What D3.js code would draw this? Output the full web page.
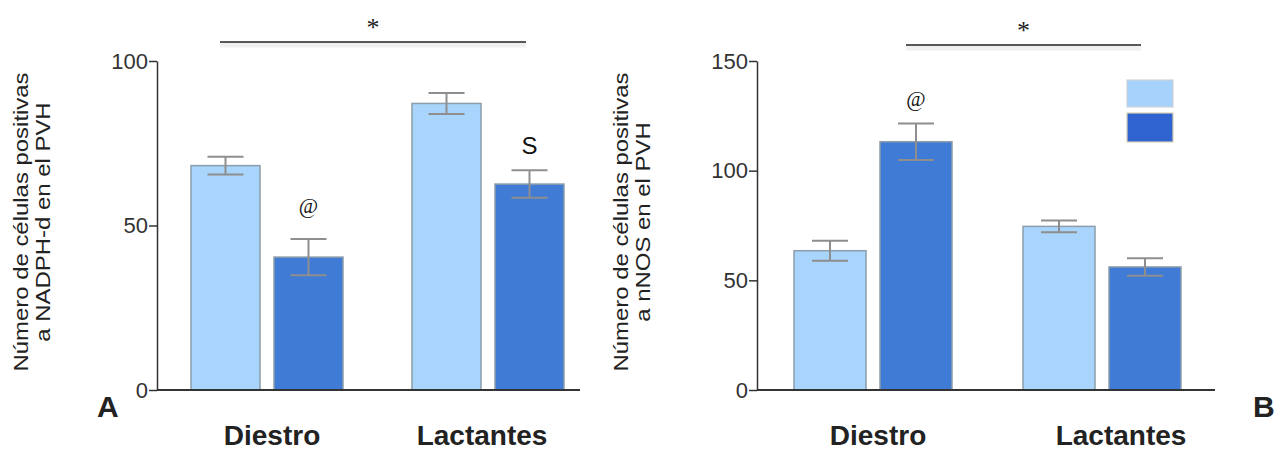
<!DOCTYPE html>
<html>
<head>
<meta charset="utf-8">
<script src="https://cdn.jsdelivr.net/npm/d3@7"></script>
<style>
  html, body { margin: 0; padding: 0; background: #fff; }
  svg { display: block; }
</style>
</head>
<body>
<svg id="fig" width="1278" height="451"></svg>
<script>
// ---- data ----
const groups = ["Diestro", "Lactantes"];
const seriesKeys = ["serie1", "serie2"];

// Panel A: NADPH-d
const nadphSerie1 = [68.2, 87.1];
const nadphSerie1Err = [2.7, 3.2];
const nadphSerie2 = [40.4, 62.6];
const nadphSerie2Err = [5.5, 4.2];
const nadphTicks = [0, 50, 100];

// Panel B: nNOS
const nosSerie1 = [63.5, 74.6];
const nosSerie1Err = [4.6, 2.7];
const nosSerie2 = [113.2, 56.1];
const nosSerie2Err = [8.3, 4.0];
const nosTicks = [0, 50, 100, 150];

// ---- styles ----
const fills = { serie1: "#a9d4fb", serie2: "#407bd5" };
const barStroke = "#8c9dab";
const errColor = "#8e8e8e";
const sans = "'Liberation Sans', Arial, Helvetica, sans-serif";
const serif = "'Liberation Serif', 'Times New Roman', serif";

const svg = d3.select("#fig");

function buildRows(s1, e1, s2, e2) {
  return groups.map((g, i) => ({
    group: g,
    bars: [
      { key: "serie1", value: s1[i], err: e1[i] },
      { key: "serie2", value: s2[i], err: e2[i] }
    ]
  }));
}

function drawPanel(cfg) {
  const g = svg.append("g");
  const y = d3.scaleLinear().domain([0, cfg.yMax]).range([cfg.y0, cfg.yTop]);
  const x0 = d3.scaleBand().domain(groups).range(cfg.barRange).paddingInner(cfg.groupPad).paddingOuter(0);
  const x1 = d3.scaleBand().domain(seriesKeys).range([0, x0.bandwidth()]).paddingInner(cfg.barPad).paddingOuter(0);

  // bars
  const grp = g.selectAll("g.grp").data(cfg.rows).join("g")
    .attr("transform", d => `translate(${x0(d.group)},0)`);
  grp.selectAll("rect").data(d => d.bars).join("rect")
    .attr("x", d => x1(d.key))
    .attr("y", d => y(d.value))
    .attr("width", x1.bandwidth())
    .attr("height", d => y(0) - y(d.value))
    .attr("fill", d => fills[d.key])
    .attr("stroke", barStroke)
    .attr("stroke-width", 1.5);

  // error bars
  const eb = grp.selectAll("g.err").data(d => d.bars).join("g")
    .attr("transform", d => `translate(${x1(d.key) + x1.bandwidth() / 2},0)`)
    .attr("stroke", errColor).attr("stroke-width", 2);
  eb.append("line").attr("x1", 0).attr("x2", 0)
    .attr("y1", d => y(d.value + d.err)).attr("y2", d => y(d.value - d.err));
  eb.append("line").attr("x1", -18).attr("x2", 18)
    .attr("y1", d => y(d.value + d.err)).attr("y2", d => y(d.value + d.err));
  eb.append("line").attr("x1", -18).attr("x2", 18)
    .attr("y1", d => y(d.value - d.err)).attr("y2", d => y(d.value - d.err));

  // axes
  const yAxis = g.append("g").attr("transform", `translate(${cfg.axisX},0)`)
    .call(d3.axisLeft(y).tickValues(cfg.ticks).tickSize(8).tickPadding(1).tickSizeOuter(0));
  yAxis.select(".domain").attr("stroke", "#333").attr("stroke-width", 1.5);
  yAxis.selectAll(".tick line").attr("stroke", "#333").attr("stroke-width", 1.5);
  yAxis.selectAll(".tick text").attr("fill", "#333").style("font-family", sans).style("font-size", "22px");

  g.append("line")
    .attr("x1", cfg.axisX).attr("x2", cfg.axisEnd)
    .attr("y1", y(0)).attr("y2", y(0))
    .attr("stroke", "#333").attr("stroke-width", 1.8);

  // group labels
  g.selectAll("text.grp").data(groups).join("text")
    .attr("x", (d, i) => x0(d) + x0.bandwidth() / 2 + cfg.labelShift[i])
    .attr("y", 445)
    .attr("text-anchor", "middle")
    .attr("fill", "#222")
    .style("font-family", sans).style("font-weight", "bold").style("font-size", "28px")
    .text(d => d);

  // y-axis title (slightly stretched along its length)
  const t = g.append("text")
    .attr("transform", `translate(${cfg.titleX},${cfg.titleY}) rotate(-90) scale(1.14,1)`)
    .attr("text-anchor", "middle")
    .attr("fill", "#222")
    .style("font-family", sans).style("font-size", "21px");
  t.append("tspan").attr("x", 0).attr("y", 0).text(cfg.title[0]);
  t.append("tspan").attr("x", 0).attr("y", 22).text(cfg.title[1]);

  // significance bar
  g.append("line")
    .attr("x1", cfg.sig[0]).attr("x2", cfg.sig[1])
    .attr("y1", cfg.sigY + 3).attr("y2", cfg.sigY + 3)
    .attr("stroke", "#f0f0f0").attr("stroke-width", 5);
  g.append("line")
    .attr("x1", cfg.sig[0]).attr("x2", cfg.sig[1])
    .attr("y1", cfg.sigY).attr("y2", cfg.sigY)
    .attr("stroke", "#222").attr("stroke-width", 1.3);
  g.append("text")
    .attr("x", (cfg.sig[0] + cfg.sig[1]) / 2).attr("y", cfg.sigY - 6)
    .attr("text-anchor", "middle").attr("fill", "#222")
    .style("font-family", serif).style("font-size", "26px")
    .text("*");

  // markers above bars
  cfg.marks.forEach(m => {
    const row = cfg.rows.find(r => r.group === m.group);
    const bar = row.bars.find(b => b.key === m.key);
    g.append("text")
      .attr("x", x0(m.group) + x1(m.key) + x1.bandwidth() / 2)
      .attr("y", y(bar.value + bar.err) - m.dy)
      .attr("text-anchor", "middle").attr("fill", "#111")
      .style("font-family", m.serif ? serif : sans)
      .style("font-size", m.size + "px")
      .text(m.text);
  });

  // panel letter
  g.append("text")
    .attr("x", cfg.letterX).attr("y", 417)
    .attr("fill", "#222")
    .style("font-family", sans).style("font-weight", "bold").style("font-size", "30px")
    .text(cfg.letter);

  return { g, x0, x1, y };
}

// Panel A
drawPanel({
  rows: buildRows(nadphSerie1, nadphSerie1Err, nadphSerie2, nadphSerie2Err),
  yMax: 100, ticks: nadphTicks, y0: 390, yTop: 61,
  barRange: [191, 564], groupPad: 69 / 221, barPad: 14 / 83,
  axisX: 157, axisEnd: 580,
  labelShift: [5, -6],
  title: ["Número de células  positivas", "a NADPH-d en el PVH"],
  titleX: 28, titleY: 222,
  sig: [220, 526], sigY: 42,
  marks: [
    { group: "Diestro", key: "serie2", text: "@", serif: true, size: 21, dy: 26 },
    { group: "Lactantes", key: "serie2", text: "S", serif: false, size: 24, dy: 16 }
  ],
  letter: "A", letterX: 97
});

// Panel B
const panelB = drawPanel({
  rows: buildRows(nosSerie1, nosSerie1Err, nosSerie2, nosSerie2Err),
  yMax: 150, ticks: nosTicks, y0: 390, yTop: 61,
  barRange: [794, 1181], groupPad: 71 / 229, barPad: 14 / 86,
  axisX: 757, axisEnd: 1215,
  labelShift: [5, 19],
  title: ["Número de células  positivas", "a nNOS en el PVH"],
  titleX: 628, titleY: 222,
  sig: [906, 1141], sigY: 45,
  marks: [
    { group: "Diestro", key: "serie2", text: "@", serif: true, size: 21, dy: 18 }
  ],
  letter: "B", letterX: 1253
});

// legend swatches (panel B)
const legend = panelB.g.append("g").attr("transform", "translate(1127,80)");
legend.selectAll("rect").data(seriesKeys).join("rect")
  .attr("x", 0)
  .attr("y", (d, i) => i * 33)
  .attr("width", 46)
  .attr("height", (d, i) => i === 0 ? 27 : 29)
  .attr("fill", d => d === "serie1" ? "#a7d2fb" : "#2f63cf")
  .attr("stroke", d => d === "serie1" ? "#cdd3d9" : "#d9cfb4")
  .attr("stroke-width", 1.2);
</script>
</body>
</html>
